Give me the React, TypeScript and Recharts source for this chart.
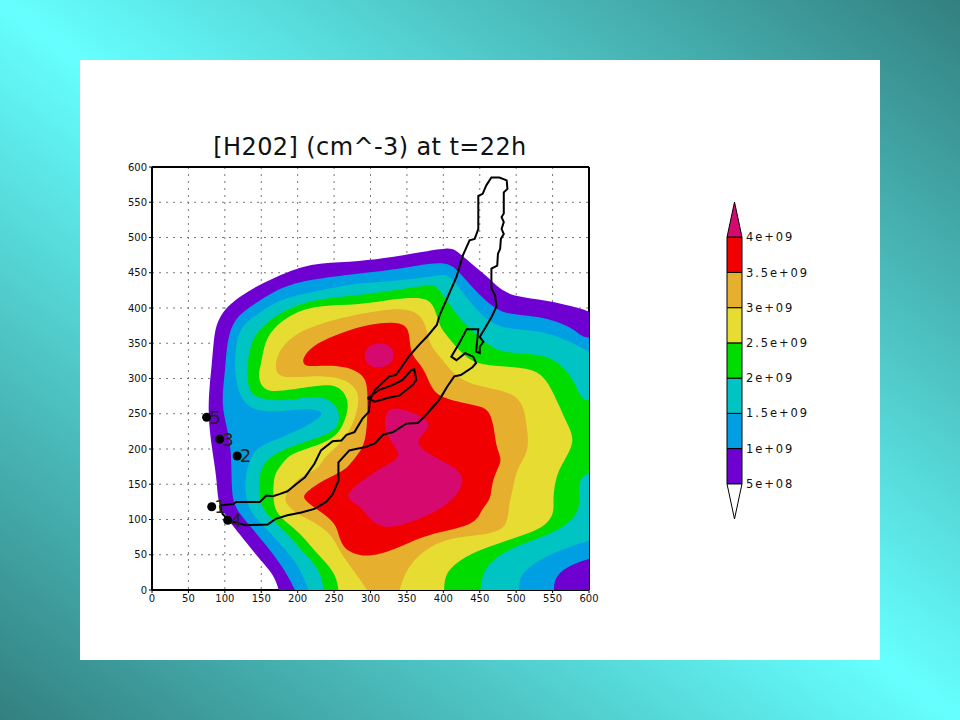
import React from 'react';
import {
  ScatterChart,
  Scatter,
  XAxis,
  YAxis,
  ZAxis,
  CartesianGrid,
  ReferenceLine,
  LabelList,
} from 'recharts';

type Pair = [number, number];

const AXIS_TICKS = [0, 50, 100, 150, 200, 250, 300, 350, 400, 450, 500, 550, 600];

// Contour regions, [x, y] in data units, painted outermost first
const ABOVE_5E8: Pair[] = [
  [174, 0], [168, 20], [152, 39], [138, 56], [122, 77], [111, 91], [101, 106], [93, 118], [90, 135], [89, 153], [86, 177],
  [79, 224], [77, 262], [80, 300], [82, 319], [85, 357], [88, 376], [97, 395], [113, 411], [138, 428],
  [170, 444], [198, 456], [230, 464], [285, 466], [331, 472], [368, 479], [407, 486], [418, 482],
  [436, 465], [459, 446], [477, 427], [498, 416], [542, 411], [579, 402], [600, 395], [600, 0],
];
const ABOVE_1E9: Pair[] = [
  [196, 0], [189, 16], [175, 39], [157, 63], [138, 87], [120, 108], [111, 125], [109, 153], [109, 200],
  [102, 234], [96, 262], [98, 291], [101, 319], [103, 352], [111, 380], [125, 395], [148, 411], [175, 428],
  [202, 437], [230, 442], [285, 449], [322, 453], [363, 460], [407, 467], [423, 449], [441, 428], [459, 409],
  [477, 395], [500, 390], [542, 387], [579, 371], [590, 359], [600, 358], [600, 44], [578, 37], [559, 25],
  [552, 11], [552, 0],
];
const ABOVE_15E8: Pair[] = [
  [215, 0], [209, 16], [198, 39], [180, 61], [157, 87], [138, 106], [128, 129], [128, 167], [136, 186],
  [143, 203], [180, 217], [216, 234], [242, 253], [212, 258], [184, 254], [148, 252], [125, 265], [116, 291],
  [113, 319], [116, 357], [125, 376], [143, 390], [170, 409], [198, 418], [230, 425], [285, 436], [322, 437],
  [363, 442], [391, 446], [407, 449], [423, 427], [441, 403], [459, 384], [477, 373], [500, 370], [542, 366],
  [575, 352], [600, 338], [600, 70], [578, 63], [542, 49], [514, 30], [504, 16], [504, 0],
];
const ABOVE_2E9: Pair[] = [
  [235, 0], [234, 16], [225, 35], [207, 54], [189, 77], [168, 96], [152, 115], [147, 129], [148, 163],
  [150, 172], [161, 189], [189, 203], [225, 215], [248, 224], [257, 236], [257, 255], [246, 269], [225, 276],
  [180, 267], [143, 272], [132, 283], [130, 319], [136, 352], [148, 371], [170, 390], [198, 404], [230, 413],
  [285, 418], [331, 425], [382, 433], [388, 433], [404, 413], [418, 390], [432, 376], [455, 352], [477, 338],
  [500, 336], [542, 333], [562, 319], [578, 300], [590, 269], [600, 269], [600, 165], [590, 163], [585, 144],
  [588, 129], [585, 110], [569, 91], [532, 73], [500, 63], [468, 44], [454, 25], [451, 0],
];
const ABOVE_25E8: Pair[] = [
  [256, 0], [253, 20], [239, 39], [221, 58], [202, 82], [184, 96], [170, 110], [166, 129], [167, 163],
  [175, 174], [189, 193], [212, 200], [239, 210], [257, 222], [267, 246], [271, 269], [257, 291], [230, 291],
  [175, 281], [152, 283], [145, 305], [150, 319], [154, 352], [170, 376], [198, 395], [230, 404], [285, 404],
  [331, 413], [372, 416], [387, 406], [393, 380], [400, 366], [423, 338], [443, 320], [486, 317], [523, 314],
  [541, 300], [555, 271], [569, 238], [582, 212], [565, 182], [555, 163], [550, 129], [553, 108], [537, 87],
  [500, 75], [468, 63], [436, 51], [413, 35], [402, 20], [401, 0],
];
const ABOVE_3E9: Pair[] = [
  [295, 0], [285, 16], [271, 35], [257, 56], [248, 77], [225, 96], [198, 108], [184, 122], [182, 132],
  [189, 144], [205, 163], [228, 170], [235, 186], [248, 198], [267, 217], [278, 241], [284, 265], [283, 283],
  [267, 298], [239, 305], [184, 300], [168, 307], [171, 336], [193, 362], [230, 378], [285, 392], [345, 402],
  [372, 390], [379, 361], [383, 345], [397, 329], [413, 307], [436, 291], [487, 283], [510, 267], [514, 234],
  [519, 198], [500, 172], [496, 144], [490, 122], [488, 91], [472, 82], [445, 77], [404, 73], [372, 56],
  [349, 30], [340, 0],
];
const ABOVE_35E8: Pair[] = [
  [207, 331], [207, 319], [219, 317], [257, 319], [280, 312], [294, 300], [296, 279], [296, 255], [294, 208],
  [280, 189], [269, 174], [255, 165], [230, 153], [208, 136], [208, 129], [225, 115], [253, 96], [257, 72],
  [266, 56], [285, 49], [300, 48], [331, 56], [377, 80], [445, 91], [452, 115], [466, 129], [466, 153],
  [477, 177], [480, 186], [472, 205], [470, 229], [463, 257], [445, 262], [395, 272], [383, 288], [376, 307],
  [367, 322], [354, 336], [354, 366], [345, 381], [299, 378], [257, 364], [225, 350],
];
const ABOVE_4E9_NORTH: Pair[] = [
  [292, 344], [312, 353], [331, 345], [333, 328], [323, 316], [301, 314], [291, 327],
];
const ABOVE_4E9_SOUTH: Pair[] = [
  [320, 260], [347, 257], [395, 236], [352, 210], [392, 186], [434, 165], [418, 130], [383, 106], [319, 82],
  [296, 104], [285, 120], [262, 132], [285, 153], [313, 172], [338, 186], [340, 196], [318, 222],
];

const CONTOURS: Pair[][] = [
  ABOVE_5E8, ABOVE_1E9, ABOVE_15E8, ABOVE_2E9, ABOVE_25E8, ABOVE_3E9, ABOVE_35E8, ABOVE_4E9_NORTH, ABOVE_4E9_SOUTH,
];
const CONTOUR_COLORS = [
  '#6e00d2', '#009fe3', '#00c4c4', '#00dc00', '#e6dc32', '#e6af2d', '#f00000', '#d60a6e', '#d60a6e',
];

// Shoreline
const SHORE: Pair[] = [
  [93, 120], [111, 122], [116, 125], [148, 125], [157, 134], [166, 133], [175, 136], [186, 140], [199, 151],
  [210, 160], [223, 179], [232, 198], [248, 211], [260, 212], [267, 220], [278, 224], [289, 243], [298, 253],
  [299, 269], [306, 284], [326, 303], [335, 305], [354, 333], [367, 348], [379, 361], [391, 376], [395, 390],
  [407, 418], [418, 444], [427, 475], [436, 496], [443, 498], [448, 512], [448, 559], [454, 562], [459, 574],
  [466, 585], [477, 585], [487, 581], [488, 569], [483, 564], [483, 534], [480, 529], [483, 522], [480, 512],
  [483, 505], [479, 498], [478, 484], [475, 477], [474, 460], [466, 456], [466, 428], [471, 418], [473, 402],
  [466, 387], [457, 371], [450, 359], [455, 352], [450, 345], [450, 336], [445, 338], [448, 370], [432, 370],
  [423, 352], [411, 331], [418, 326], [430, 336], [441, 331], [445, 322], [440, 316], [424, 305], [415, 303],
  [405, 288], [397, 274], [392, 267], [374, 246], [365, 237], [349, 236], [331, 224], [317, 220], [306, 208],
  [294, 203], [280, 200], [271, 198], [256, 181], [256, 155], [248, 136], [239, 125], [223, 115], [205, 110],
  [186, 106], [170, 101], [159, 93], [129, 92], [113, 96], [104, 100], [97, 108], [93, 120],
];
const ISLAND: Pair[] = [
  [296, 272], [312, 284], [331, 291], [344, 298], [356, 312], [360, 313], [363, 298], [358, 291], [340, 276],
  [322, 272], [306, 267], [296, 272],
];

const STATION_NAMES = ['1', '2', '3', '4', '5'];
const STATION_X = [82, 117, 93, 104, 75];
const STATION_Y = [118, 190, 214, 99, 245];

const BAR_LEVELS = [5e8, 1e9, 1.5e9, 2e9, 2.5e9, 3e9, 3.5e9, 4e9];
const BAR_LABELS = ['5e+08', '1e+09', '1.5e+09', '2e+09', '2.5e+09', '3e+09', '3.5e+09', '4e+09'];
const BAR_COLORS = ['#6e00d2', '#009fe3', '#00c4c4', '#00dc00', '#e6dc32', '#e6af2d', '#f00000'];
const BAR_MIN = 0;
const BAR_MAX = 4.5e9;

const toPoints = (pairs: Pair[]) => pairs.map(([x, y]) => ({ x, y }));
// the closed basis curve rounds everything, so points on the plot edge are repeated to stay put
const keepEdges = (pairs: Pair[]) =>
  pairs.flatMap((p) => (p[0] === 600 || p[1] === 0 ? [p, p, p] : [p]));
const noSymbol = () => null;

const stations = STATION_NAMES.map((name, i) => ({ name, x: STATION_X[i], y: STATION_Y[i] }));

const tickStyle = { fill: '#111', fontSize: 10, fontFamily: 'DejaVu Sans' };

function PlotPanel() {
  return (
    <ScatterChart width={800} height={600} margin={{ top: 107, right: 291, bottom: 40, left: 42 }}>
      {CONTOURS.map((pairs, i) => (
        <Scatter
          key={i}
          data={toPoints(keepEdges(pairs))}
          shape={noSymbol}
          line={{ fill: CONTOUR_COLORS[i], stroke: 'none' }}
          lineJointType="basisClosed"
          isAnimationActive={false}
        />
      ))}
      <CartesianGrid stroke="#777" strokeDasharray="2 5" strokeWidth={1} />
      <XAxis
        type="number"
        dataKey="x"
        domain={[0, 600]}
        ticks={AXIS_TICKS}
        interval={0}
        height={30}
        tick={tickStyle}
        tickSize={3}
        tickMargin={2}
        axisLine={{ stroke: '#000', strokeWidth: 2 }}
        tickLine={{ stroke: '#000' }}
      />
      <YAxis
        type="number"
        dataKey="y"
        domain={[0, 600]}
        ticks={AXIS_TICKS}
        interval={0}
        width={30}
        tick={tickStyle}
        tickSize={3}
        tickMargin={2}
        axisLine={{ stroke: '#000', strokeWidth: 2 }}
        tickLine={{ stroke: '#000' }}
      />
      <ZAxis range={[50, 50]} />
      <ReferenceLine x={600} stroke="#000" strokeWidth={2} />
      <ReferenceLine y={600} stroke="#000" strokeWidth={2} />
      <Scatter
        data={toPoints(SHORE)}
        shape={noSymbol}
        line={{ fill: 'none', stroke: '#000', strokeWidth: 2 }}
        isAnimationActive={false}
      />
      <Scatter
        data={toPoints(ISLAND)}
        shape={noSymbol}
        line={{ fill: 'none', stroke: '#000', strokeWidth: 2 }}
        isAnimationActive={false}
      />
      <Scatter data={stations} fill="#000" isAnimationActive={false}>
        <LabelList
          dataKey="name"
          position="right"
          offset={-2}
          fill="#222"
          fontSize={18}
          fontFamily="DejaVu Sans"
        />
      </Scatter>
      <text
        x={290}
        y={95}
        textAnchor="middle"
        fontSize={24}
        letterSpacing={0.4}
        fontFamily="DejaVu Sans"
        fill="#111"
      >
        [H202] (cm^-3) at t=22h
      </text>
    </ScatterChart>
  );
}

function ColorBar() {
  const segments = BAR_COLORS.map((color, i) => ({
    color,
    points: toPoints([
      [0, BAR_LEVELS[i]],
      [1, BAR_LEVELS[i]],
      [1, BAR_LEVELS[i + 1]],
      [0, BAR_LEVELS[i + 1]],
      [0, BAR_LEVELS[i]],
    ]),
  }));
  const lowCap = toPoints([[0, BAR_LEVELS[0]], [1, BAR_LEVELS[0]], [0.5, BAR_MIN], [0, BAR_LEVELS[0]]]);
  const highCap = toPoints([[0, 4e9], [1, 4e9], [0.5, BAR_MAX], [0, 4e9]]);

  return (
    <ScatterChart width={140} height={340} margin={{ top: 12, right: 18, bottom: 11, left: 27 }}>
      <XAxis type="number" dataKey="x" domain={[0, 1]} hide />
      <YAxis
        type="number"
        dataKey="y"
        orientation="right"
        domain={[BAR_MIN, BAR_MAX]}
        ticks={BAR_LEVELS}
        interval={0}
        width={80}
        axisLine={false}
        tickLine={false}
        tickSize={0}
        tickMargin={4}
        tickFormatter={(v: number) => BAR_LABELS[BAR_LEVELS.indexOf(v)]}
        tick={{ fill: '#111', fontSize: 11.5, fontFamily: 'DejaVu Sans', letterSpacing: 1.9, textAnchor: 'start' }}
      />
      <Scatter
        data={lowCap}
        shape={noSymbol}
        line={{ fill: '#fff', stroke: '#000', strokeWidth: 1 }}
        isAnimationActive={false}
      />
      <Scatter
        data={highCap}
        shape={noSymbol}
        line={{ fill: '#d60a6e', stroke: '#000', strokeWidth: 1 }}
        isAnimationActive={false}
      />
      {segments.map((seg) => (
        <Scatter
          key={seg.color}
          data={seg.points}
          shape={noSymbol}
          line={{ fill: seg.color, stroke: '#000', strokeWidth: 1 }}
          isAnimationActive={false}
        />
      ))}
    </ScatterChart>
  );
}

export default function App() {
  return (
    <div
      style={{
        position: 'fixed',
        left: 0,
        top: 0,
        width: 960,
        height: 720,
        overflow: 'hidden',
        background: 'linear-gradient(to top right, #338080 0%, #66ffff 50%, #338080 100%)',
      }}
    >
      <div style={{ position: 'absolute', left: 80, top: 60, width: 800, height: 600, background: '#fff' }}>
        <PlotPanel />
      </div>
      <div style={{ position: 'absolute', left: 700, top: 190, width: 140, height: 340 }}>
        <ColorBar />
      </div>
    </div>
  );
}
